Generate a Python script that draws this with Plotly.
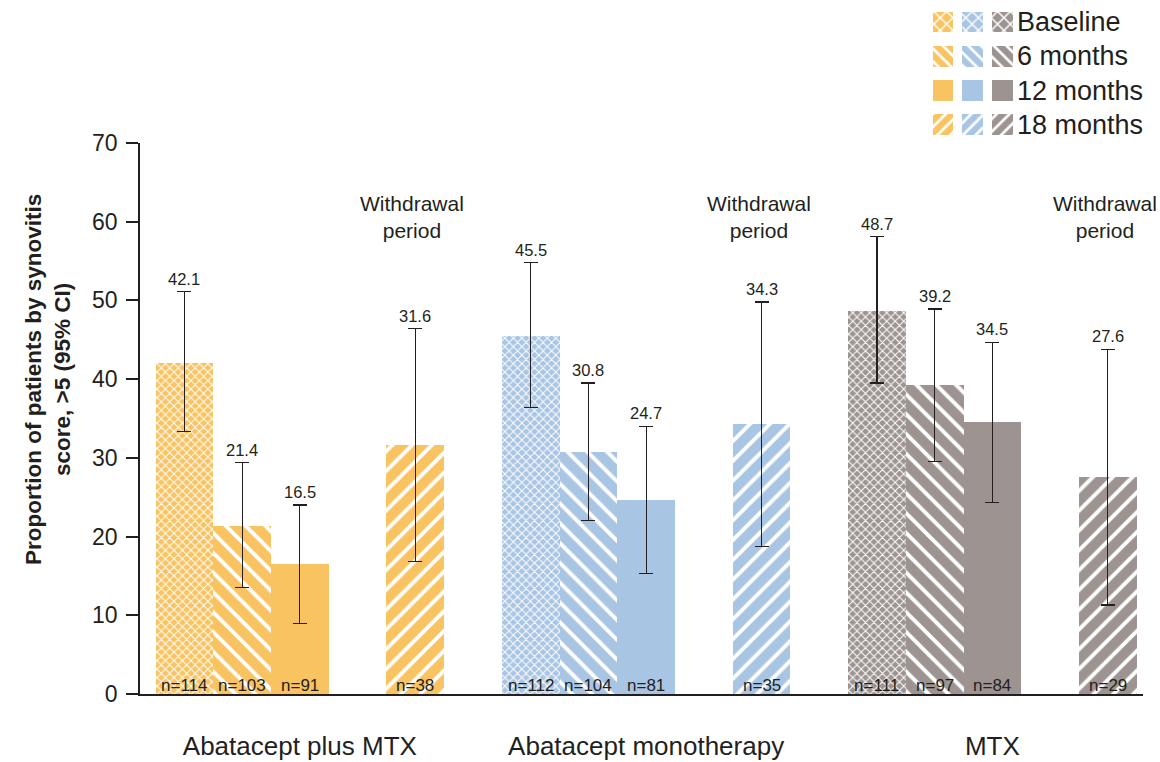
import plotly.graph_objects as go

# ---- data ----
groups = ["Abatacept plus MTX", "Abatacept monotherapy", "MTX"]
timepoints = ["Baseline", "6 months", "12 months", "18 months"]

pct_baseline = [42.1, 45.5, 48.7]
pct_6m = [21.4, 30.8, 39.2]
pct_12m = [16.5, 24.7, 34.5]
pct_18m = [31.6, 34.3, 27.6]

ci_low_baseline = [33.3, 36.4, 39.5]
ci_high_baseline = [51.1, 54.8, 58.1]
ci_low_6m = [13.5, 22.0, 29.5]
ci_high_6m = [29.4, 39.5, 48.9]
ci_low_12m = [9.0, 15.3, 24.3]
ci_high_12m = [24.0, 34.0, 44.7]
ci_low_18m = [16.8, 18.7, 11.3]
ci_high_18m = [46.4, 49.8, 43.8]

n_baseline = [114, 112, 111]
n_6m = [103, 104, 97]
n_12m = [91, 81, 84]
n_18m = [38, 35, 29]

y_ticks = [0, 10, 20, 30, 40, 50, 60, 70]

# ---- styling ----
group_colors = ["#F8C360", "#A9C5E4", "#9D9491"]
INK = "#231F20"
FONT = "Liberation Sans, Arial, sans-serif"

series = [
    (pct_baseline, ci_low_baseline, ci_high_baseline, n_baseline),
    (pct_6m, ci_low_6m, ci_high_6m, n_6m),
    (pct_12m, ci_low_12m, ci_high_12m, n_12m),
    (pct_18m, ci_low_18m, ci_high_18m, n_18m),
]

# slot of each timepoint inside a group (gap before the withdrawal bar)
slot_offset = [0, 1, 2, 4]
group_step = 6


def pattern_for(t, color, big):
    """Pattern per timepoint: crosshatch, back-slash, solid, slash (white on colour)."""
    if t == 2:
        return dict(shape="")
    shape = {0: "x", 1: "\\", 3: "/"}[t]
    if t == 0:
        size, solidity = (9, 0.3) if big else (6, 0.3)
    else:
        size, solidity = (9, 0.3) if big else (14, 0.28)
    return dict(shape=shape, fgcolor="#FFFFFF", bgcolor=color,
                size=size, solidity=solidity, fillmode="replace")


fig = go.Figure()
annotations = []

for t, (vals, lo, hi, ns) in enumerate(series):
    for g in range(len(groups)):
        x = g * group_step + slot_offset[t]
        v = vals[g]
        fig.add_trace(go.Bar(
            x=[x], y=[v], width=1,
            marker=dict(color=group_colors[g], line=dict(width=0),
                        pattern=pattern_for(t, group_colors[g], False)),
            error_y=dict(type="data", symmetric=False,
                         array=[hi[g] - v], arrayminus=[v - lo[g]],
                         color=INK, thickness=1.2, width=7),
            showlegend=False, name=f"{groups[g]} – {timepoints[t]}",
        ))
        annotations.append(dict(x=x, y=hi[g], text=f"{v}", showarrow=False,
                                yanchor="bottom", yshift=2,
                                font=dict(size=16.5, color=INK, family=FONT)))
        annotations.append(dict(x=x, y=0, text=f"n={ns[g]}", showarrow=False,
                                yanchor="bottom", yshift=-3,
                                font=dict(size=17, color=INK, family=FONT)))

# withdrawal period captions above the 18-month bars
for g in range(len(groups)):
    annotations.append(dict(x=g * group_step + slot_offset[3] - 0.05, y=60.6,
                            text="Withdrawal<br>period", showarrow=False,
                            align="center", yanchor="middle",
                            font=dict(size=21, color=INK, family=FONT)))

# y-axis title
annotations.append(dict(xref="paper", yref="paper", x=-0.0917, y=0.4557,
                        text="<b>Proportion of patients by synovitis<br>score, >5 (95% CI)</b>",
                        textangle=-90, showarrow=False, align="center",
                        xanchor="center", yanchor="middle",
                        font=dict(size=22.5, color=INK, family=FONT)))

# legend swatch grid: rows = timepoints, columns = groups
for t in range(len(timepoints)):
    row_base = (3 - t) + 0.2
    for g in range(len(groups)):
        fig.add_trace(go.Bar(
            x=[g], y=[0.61], base=[row_base], width=0.7,
            marker=dict(color=group_colors[g], line=dict(width=0),
                        pattern=pattern_for(t, group_colors[g], True)),
            xaxis="x2", yaxis="y2", showlegend=False, hoverinfo="skip",
        ))
    annotations.append(dict(xref="x2", yref="y2", x=2.4, y=row_base + 0.3,
                            text=timepoints[t], showarrow=False,
                            xanchor="left", yanchor="middle",
                            font=dict(size=27, color=INK, family=FONT)))

fig.update_layout(
    width=1160, height=762,
    margin=dict(l=140, r=17, t=5, b=68, autoexpand=False),
    paper_bgcolor="white", plot_bgcolor="white",
    font=dict(family=FONT, color=INK),
    barmode="overlay", bargap=0,
    annotations=annotations,
    xaxis=dict(range=[-0.77, 16.61], tickvals=[2, 8, 14], ticktext=groups,
               ticks="", showline=True, linewidth=1.5, linecolor=INK,
               showgrid=False, zeroline=False, ticklabelstandoff=28,
               automargin=False,
               tickfont=dict(size=26, color=INK, family=FONT)),
    yaxis=dict(domain=[0, 0.7997], range=[0, 70], tickvals=y_ticks,
               ticks="outside", ticklen=12, tickwidth=1.5, tickcolor=INK,
               showline=True, linewidth=1.5, linecolor=INK,
               showgrid=False, zeroline=False, ticklabelstandoff=4,
               automargin=False,
               tickfont=dict(size=23, color=INK, family=FONT)),
    xaxis2=dict(domain=[0.7852, 0.8749], range=[-0.5, 2.5], anchor="y2",
                visible=False, fixedrange=True),
    yaxis2=dict(domain=[0.801, 1.0], range=[0, 4], anchor="x2",
                visible=False, fixedrange=True),
)

fig.write_html("out.html")
